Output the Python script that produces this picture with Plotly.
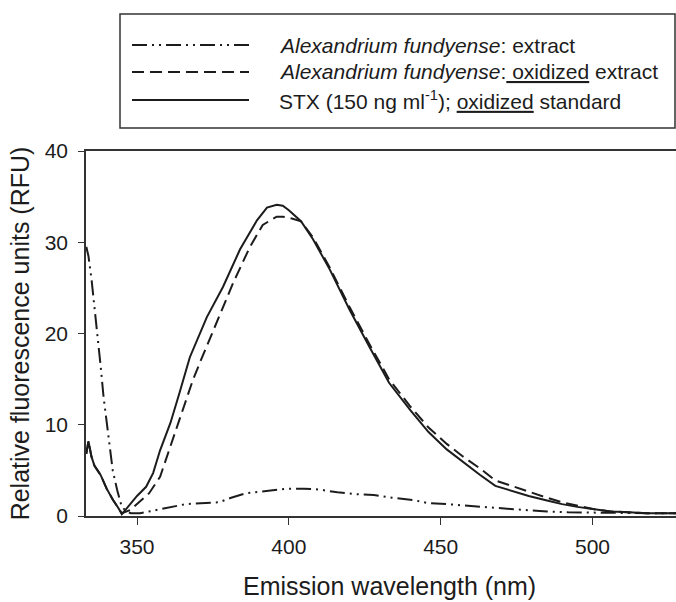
import plotly.graph_objects as go

# ---- data ----
stx_wl = [333.3, 334, 335, 336, 337, 338, 340, 342, 344, 345, 346, 348, 350, 353, 355.3, 357.6,
          361, 364, 367.4, 373, 378.3, 383.9, 389.5, 392.8, 396, 398, 400, 404, 408, 413.5,
          420, 426.6, 433, 440, 446, 452, 457, 463, 468, 474, 479, 485, 490, 495, 501, 506,
          512, 518, 527.5]
stx_val = [6.8, 8.2, 6.5, 5.5, 5.0, 4.5, 3.0, 1.8, 0.8, 0.2, 0.6, 1.4, 2.2, 3.2, 4.7, 7.2,
           10.2, 13.5, 17.4, 21.8, 25.1, 29.2, 32.4, 33.8, 34.1, 34.0, 33.5, 32.3, 30.3, 27.0,
           22.6, 18.5, 14.6, 11.6, 9.2, 7.3, 6.0, 4.5, 3.3, 2.7, 2.2, 1.7, 1.3, 1.0, 0.7, 0.5,
           0.4, 0.3, 0.3]

oxi_wl = [333.3, 334, 335, 336, 337, 338, 340, 342, 344, 345, 347.7, 350, 354, 357.6, 361,
          365, 368.4, 370.7, 376.3, 381.6, 387.2, 391.4, 396, 398, 401, 404, 408, 413.5, 420,
          426.6, 433, 440, 446, 452, 457, 463, 468, 474, 479, 485, 490, 495, 501, 506, 512,
          518, 527.5]
oxi_val = [6.8, 8.2, 6.5, 5.5, 5.0, 4.5, 3.0, 1.8, 0.8, 0.3, 0.65, 1.3, 2.5, 4.3, 7.6,
           11.6, 14.9, 16.8, 21.2, 25.5, 29.5, 31.9, 32.8, 32.8, 32.6, 32.3, 30.5, 27.2, 22.9,
           18.8, 15.0, 12.0, 9.7, 7.9, 6.6, 5.2, 3.9, 3.2, 2.7, 2.0, 1.5, 1.1, 0.7, 0.5, 0.4,
           0.3, 0.3]

ext_wl = [333.3, 334, 335, 336, 337, 338, 339, 340, 341, 342, 343.5, 345, 346.5, 348, 351,
          354, 358, 362, 366, 371, 377, 381, 386, 394, 400, 405, 410, 416, 422, 428, 434,
          441, 446, 452, 457, 462, 468, 474, 479, 485, 492, 500, 510, 520, 527.5]
ext_val = [29.5, 28.5, 26.0, 23.0, 19.5, 16.5, 13.0, 10.2, 7.5, 5.0, 2.8, 1.0, 0.5, 0.3, 0.3,
           0.5, 0.7, 1.0, 1.3, 1.4, 1.5, 2.0, 2.5, 2.8, 3.0, 3.0, 2.9, 2.6, 2.4, 2.3, 2.0,
           1.75, 1.4, 1.3, 1.2, 1.05, 0.9, 0.75, 0.6, 0.5, 0.4, 0.35, 0.3, 0.3, 0.3]

x_ticks = [350, 400, 450, 500]
y_ticks = [0, 10, 20, 30, 40]

legend_labels = [
    "<i>Alexandrium fundyense</i>: extract",
    "<i>Alexandrium fundyense</i>:<span style='text-decoration:underline'> oxidized</span> extract",
    "STX (150 ng ml<sup>-1</sup>); <span style='text-decoration:underline'>oxidized</span> standard",
]

FONT = "Arial, 'Liberation Sans', sans-serif"
INK = "#1c1c1c"
DASH_EXT = "15px,5px,2px,5px,2px,5px"
DASH_OXI = "12px,6px"

fig = go.Figure()
fig.add_trace(go.Scatter(x=ext_wl, y=ext_val, mode="lines",
                         line=dict(color=INK, width=2, dash=DASH_EXT), showlegend=False))
fig.add_trace(go.Scatter(x=oxi_wl, y=oxi_val, mode="lines",
                         line=dict(color=INK, width=2, dash=DASH_OXI), showlegend=False))
fig.add_trace(go.Scatter(x=stx_wl, y=stx_val, mode="lines",
                         line=dict(color=INK, width=2), showlegend=False))

# ---- custom legend box (samples are long, like the original) ----
L, R, T, B = 86, 676, 151, 516
def px(xp):
    return (xp - L) / (R - L)
def py(yp):
    return (B - yp) / (B - T)

shapes = [dict(type="rect", xref="paper", yref="paper",
               x0=px(120), x1=px(675), y0=py(128), y1=py(14),
               line=dict(color="#333", width=1.5), fillcolor="rgba(0,0,0,0)")]
rows = [45, 72, 100]
dashes = [DASH_EXT, DASH_OXI, "solid"]
annotations = []
for yrow, dsh, lab in zip(rows, dashes, legend_labels):
    shapes.append(dict(type="line", xref="paper", yref="paper",
                       x0=px(132), x1=px(249), y0=py(yrow), y1=py(yrow),
                       line=dict(color=INK, width=2, dash=dsh)))
    annotations.append(dict(xref="paper", yref="paper", x=px(277), y=py(yrow),
                            xanchor="left", yanchor="middle", showarrow=False,
                            text=lab, font=dict(family=FONT, size=21, color=INK)))

# x-axis title (the original frame was cropped on the right, so the title sits off-centre)
annotations.append(dict(xref="paper", yref="paper", x=px(389), y=py(586),
                        xanchor="center", yanchor="middle", showarrow=False,
                        text="Emission wavelength (nm)",
                        font=dict(family=FONT, size=25, color=INK)))

fig.update_layout(
    width=676, height=602,
    margin=dict(l=L, r=676 - R, t=T, b=602 - B),
    paper_bgcolor="white", plot_bgcolor="white",
    font=dict(family=FONT, color=INK),
    shapes=shapes, annotations=annotations,
    showlegend=False,
    xaxis=dict(range=[333.2, 527.5], tickvals=x_ticks, ticks="outside", ticklen=7,
               tickwidth=1.2, tickcolor="#333", showline=True, linecolor="#333",
               linewidth=1.5, mirror=True, showgrid=False, zeroline=False,
               tickfont=dict(size=21, family=FONT, color=INK), ticklabelstandoff=4),
    yaxis=dict(range=[0, 40], tickvals=y_ticks, ticks="outside", ticklen=6,
               tickwidth=1.2, tickcolor="#333", showline=True, linecolor="#333",
               linewidth=1.5, showgrid=False, zeroline=False,
               tickfont=dict(size=21, family=FONT, color=INK), ticklabelstandoff=6,
               title=dict(text="Relative fluorescence units (RFU)",
                          font=dict(size=25, family=FONT, color=INK), standoff=8)),
)

fig.write_html(
    "out.html",
    config={"displayModeBar": False},
    post_script="document.body.style.margin='0';document.body.style.overflow='hidden';",
)
